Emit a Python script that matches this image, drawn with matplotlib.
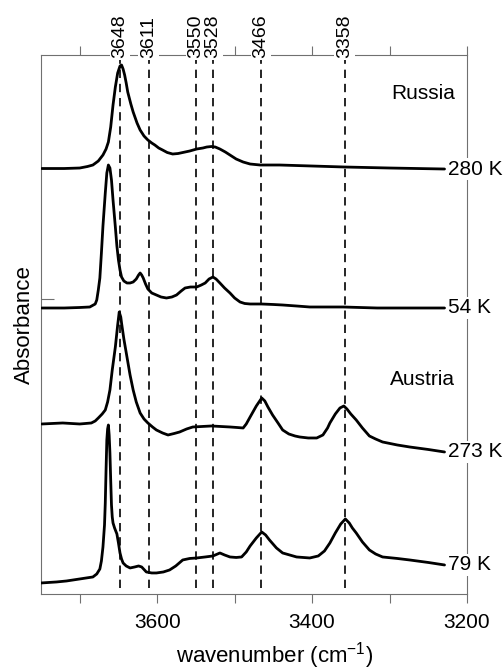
import matplotlib.pyplot as plt

plt.rcParams["font.family"] = ["Liberation Sans", "DejaVu Sans"]
plt.rcParams["mathtext.default"] = "regular"

FRAME = "#707070"

# Spectra as (wavenumber cm-1, absorbance above the right-hand end) pairs
russia_280 = [
    (3749, 0.005), (3720, 0.005), (3700, 0.01), (3690, 0.025), (3683, 0.04),
    (3676, 0.08), (3670, 0.14), (3666, 0.20), (3663, 0.27), (3660, 0.42),
    (3657, 0.64), (3654, 0.82), (3651, 0.96), (3648, 1.03), (3646, 1.04),
    (3644, 1.00), (3642, 0.94), (3640, 0.86), (3638, 0.77), (3634, 0.65),
    (3631, 0.57), (3626, 0.46), (3622, 0.39), (3617, 0.33), (3612, 0.29),
    (3607, 0.26), (3603, 0.24), (3598, 0.21), (3593, 0.19), (3587, 0.165),
    (3580, 0.15), (3573, 0.155), (3567, 0.165), (3558, 0.18), (3549, 0.20),
    (3541, 0.21), (3536, 0.22), (3530, 0.225), (3525, 0.22), (3519, 0.20),
    (3512, 0.17), (3506, 0.14), (3498, 0.10), (3489, 0.07), (3480, 0.05),
    (3467, 0.04), (3442, 0.04), (3400, 0.03), (3358, 0.02), (3300, 0.01),
    (3229, 0.0),
]

russia_54 = [
    (3749, 0.0), (3720, 0.0), (3700, 0.005), (3687, 0.01), (3680, 0.04),
    (3678, 0.08), (3676, 0.18), (3674, 0.30), (3672, 0.55), (3670, 0.82),
    (3667, 1.15), (3665, 1.35), (3663, 1.43), (3661, 1.40), (3659, 1.28),
    (3657, 1.08), (3654, 0.81), (3652, 0.62), (3650, 0.48), (3648, 0.38),
    (3646, 0.31), (3643, 0.27), (3639, 0.25), (3635, 0.25), (3631, 0.26),
    (3627, 0.29), (3624, 0.33), (3622, 0.35), (3620, 0.33), (3618, 0.30),
    (3615, 0.24), (3612, 0.19), (3607, 0.15), (3601, 0.13), (3595, 0.11),
    (3588, 0.10), (3581, 0.11), (3575, 0.13), (3569, 0.17), (3564, 0.20),
    (3557, 0.21), (3549, 0.21), (3543, 0.23), (3538, 0.25), (3533, 0.29),
    (3528, 0.31), (3524, 0.29), (3519, 0.25), (3513, 0.20), (3506, 0.15),
    (3500, 0.10), (3493, 0.06), (3487, 0.045), (3480, 0.04), (3465, 0.04),
    (3450, 0.035), (3438, 0.03), (3420, 0.02), (3403, 0.01), (3360, 0.01),
    (3316, 0.0), (3229, 0.0),
]

austria_273 = [
    (3749, 0.28), (3722, 0.29), (3700, 0.28), (3685, 0.29), (3680, 0.31),
    (3676, 0.34), (3671, 0.38), (3667, 0.42), (3664, 0.50), (3661, 0.62),
    (3658, 0.82), (3654, 1.05), (3651, 1.27), (3649, 1.40), (3647, 1.35),
    (3646, 1.29), (3643, 1.13), (3639, 0.95), (3635, 0.77), (3631, 0.62),
    (3627, 0.50), (3622, 0.39), (3617, 0.33), (3612, 0.29), (3606, 0.25),
    (3601, 0.22), (3593, 0.19), (3586, 0.17), (3578, 0.185), (3571, 0.20),
    (3562, 0.23), (3554, 0.25), (3542, 0.255), (3530, 0.26), (3518, 0.255),
    (3506, 0.25), (3497, 0.245), (3489, 0.24), (3485, 0.28), (3480, 0.35),
    (3472, 0.46), (3465, 0.54), (3461, 0.51), (3457, 0.45), (3451, 0.37),
    (3444, 0.29), (3438, 0.22), (3430, 0.18), (3422, 0.16), (3416, 0.15),
    (3405, 0.14), (3394, 0.14), (3386, 0.17), (3380, 0.24), (3377, 0.29),
    (3370, 0.38), (3364, 0.44), (3359, 0.46), (3355, 0.43), (3350, 0.38),
    (3343, 0.32), (3335, 0.24), (3326, 0.16), (3318, 0.13), (3309, 0.10),
    (3290, 0.07), (3274, 0.05), (3250, 0.025), (3229, 0.0),
]

austria_79 = [
    (3750, -0.18), (3730, -0.17), (3717, -0.16), (3700, -0.14), (3683, -0.12),
    (3678, -0.09), (3674, -0.04), (3672, 0.04), (3670, 0.18), (3668, 0.40),
    (3667, 0.62), (3666, 0.95), (3665, 1.25), (3664, 1.36), (3663, 1.40),
    (3662, 1.30), (3661, 1.12), (3660, 0.85), (3659, 0.60), (3658, 0.48),
    (3657, 0.42), (3655, 0.37), (3652, 0.31), (3650, 0.22), (3648, 0.12),
    (3646, 0.06), (3644, 0.02), (3640, -0.01), (3635, -0.03), (3629, -0.02),
    (3624, -0.01), (3620, -0.02), (3614, -0.07), (3607, -0.08), (3601, -0.08),
    (3592, -0.07), (3584, -0.05), (3576, -0.01), (3567, 0.05), (3558, 0.065),
    (3549, 0.07), (3538, 0.08), (3528, 0.09), (3519, 0.12), (3513, 0.10),
    (3506, 0.08), (3498, 0.075), (3491, 0.08), (3485, 0.13), (3480, 0.19),
    (3472, 0.27), (3465, 0.33), (3460, 0.30), (3455, 0.25), (3446, 0.17),
    (3438, 0.12), (3420, 0.08), (3403, 0.07), (3392, 0.09), (3384, 0.14),
    (3377, 0.22), (3370, 0.32), (3363, 0.41), (3357, 0.46), (3352, 0.42),
    (3348, 0.37), (3343, 0.32), (3335, 0.23), (3326, 0.15), (3318, 0.11),
    (3309, 0.08), (3290, 0.065), (3274, 0.05), (3250, 0.025), (3229, 0.0),
]

temps = ["280 K", "54 K", "273 K", "79 K"]
offsets = [4.25, 2.86, 1.42, 0.29]
spectra = [russia_280, russia_54, austria_273, austria_79]

bands = [3648, 3611, 3550, 3528, 3466, 3358]

fig = plt.figure(figsize=(5.03, 6.71), dpi=100)
ax = fig.add_axes([0.0815, 0.1148, 0.8469, 0.8032])
ax.set_xlim(3750, 3200)
ax.set_ylim(0, 5.39)

for spec, off, lab in zip(spectra, offsets, temps):
    wn = [p[0] for p in spec]
    y = [p[1] + off for p in spec]
    ax.plot(wn, y, color="black", lw=2.0, solid_joinstyle="round",
            solid_capstyle="round", zorder=4)
    ax.text(3225, y[-1], lab, ha="left", va="center", fontsize=15,
            bbox=dict(fc="white", ec="none", pad=1), zorder=5)

# band positions, labelled across the top frame
for b in bands:
    ax.vlines(b, 0.06, 5.39, color="black", lw=1.2,
              linestyles=(0, (5, 3.5)), zorder=3)
    ax.text(b, 5.36, str(b), rotation=90, ha="center", va="bottom",
            fontsize=14, bbox=dict(fc="white", ec="none", pad=1.2), zorder=5)

ax.text(3257, 5.01, "Russia", ha="center", va="center", fontsize=15)
ax.text(3257, 2.14, "Austria", ha="center", va="center", fontsize=15)

for s in ax.spines.values():
    s.set_color(FRAME)
    s.set_linewidth(0.8)

ax.set_xticks([3600, 3400, 3200])
ax.set_xticks([3700, 3500, 3300], minor=True)
ax.tick_params(axis="x", which="both", direction="out", length=6.5, width=0.8,
               color=FRAME, top=True, labelsize=15, pad=7)
ax.set_yticks([2.95])
ax.tick_params(axis="y", direction="in", length=9, width=0.8, color=FRAME,
               labelleft=False)

ax.set_xlabel("wavenumber (cm$^{-1}$)", fontsize=16)
ax.xaxis.set_label_coords(0.549, -0.085)
ax.set_ylabel("Absorbance", fontsize=16, labelpad=4)

fig.savefig("out.png", dpi=100)
